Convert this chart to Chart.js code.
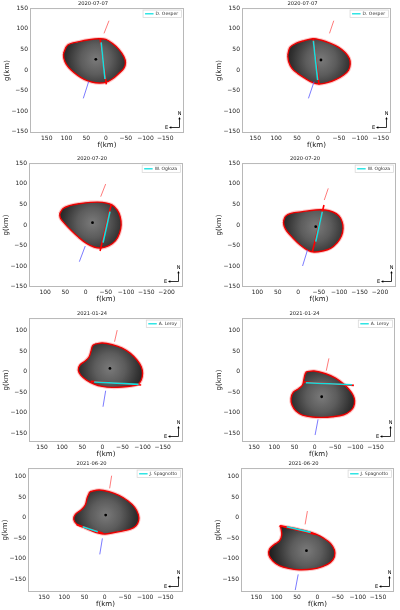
<!DOCTYPE html>
<html>
<head>
<meta charset="utf-8">
<script src="https://cdn.jsdelivr.net/npm/chart.js@4.4.1/dist/chart.umd.min.js"></script>
<style>
  body { margin: 0; width: 400px; height: 610px; position: relative; overflow: hidden; background: #fff; }
  canvas { position: absolute; }
</style>
</head>
<body>
<script>
// Titres et observateurs par panneau (2 solutions par date)
const dates = ['2020-07-07', '2020-07-07', '2020-07-20', '2020-07-20',
               '2021-01-24', '2021-01-24', '2021-06-20', '2021-06-20'];
const observers = ['D. Oesper', 'D. Oesper', 'W. Ogłoza', 'W. Ogłoza',
                   'A. Leroy', 'A. Leroy', 'J. Spagnotto', 'J. Spagnotto'];

// Contours projetés (f, g) en km
const outline1 = [[107.5,40.5],[96.7,60.7],[67.5,68.8],[42.5,73.6],[17.5,76],[0.8,74.4],[-15.8,64.7],[-32.5,50.2],[-45,32.4],[-49.2,17.8],[-45,4],[-32.5,-8.1],[-15.8,-21.8],[0.8,-30],[17.5,-31.6],[35.8,-29.1],[55,-22.7],[71.7,-12.9],[88.3,0],[100.8,14.6],[106.7,28.3]];
const outline2 = [[72.3,36.4],[66.8,55],[52.7,64.7],[33,71.2],[11.8,76],[-6.3,72.8],[-29.9,64.7],[-49.5,55],[-65.3,42.1],[-74.7,28.3],[-77,14.6],[-73.1,0],[-61.3,-12.1],[-43.2,-22.7],[-22,-30.7],[-2.4,-34],[13.4,-29.9],[30.7,-20.2],[48.7,-8.1],[62.1,4],[70,20.2]];
const outline3 = [[64.2,26.7],[56.1,39.6],[39.8,46.9],[15.4,51.8],[-13,55],[-41.5,55],[-64.2,49.4],[-78,36.4],[-85.4,20.2],[-87.8,0],[-83.7,-20.2],[-74,-38],[-57.7,-50.2],[-37.4,-55.8],[-21.1,-53.4],[-2.4,-44.5],[17.1,-29.9],[35.8,-12.9],[52,4],[61.8,16.2]];
const outline4 = [[36.2,8.1],[31.4,21],[17.7,28.3],[-10.5,32.4],[-42.7,36.4],[-65.2,36.4],[-84.5,31.6],[-99,22.7],[-107.1,8.1],[-109.5,-8.1],[-105.5,-26.7],[-95,-42.9],[-78.9,-56.6],[-58.8,-63.1],[-38.6,-65.5],[-22.5,-60.7],[-4.8,-48.5],[13.7,-30.7],[28.2,-14.6],[34.6,-2.4]];
const outline5 = [[18,67.2],[0,69.6],[-24.6,65.5],[-49.2,57.4],[-69.7,44.5],[-86.1,28.3],[-96.7,12.1],[-100,-4],[-96.7,-20.2],[-88.5,-30.7],[-72.1,-34.8],[-49.2,-37.2],[-24.6,-38],[0,-35.6],[20.5,-29.9],[39.3,-20.2],[53.3,-8.9],[59.8,4],[55.7,16.2],[42.6,25.9],[32.8,36.4],[27.9,51],[24.6,62.3]];
const outline6 = [[20.3,0],[1.6,1.6],[-26.8,-4.9],[-51.2,-15.4],[-69.1,-28.3],[-83.7,-42.1],[-94.3,-56.6],[-98.4,-70.4],[-95.9,-85],[-87.8,-95.5],[-71.5,-104.4],[-43.1,-109.2],[-18.7,-110.8],[5.7,-110],[30.1,-105.2],[46.3,-95.5],[56.1,-80.9],[58.5,-64.7],[52.8,-49.4],[39.8,-41.3],[30.1,-32.4],[26.8,-18.6],[23.6,-5.7]];
const outline7 = [[36.6,63.1],[13.8,67.2],[-10.6,63.1],[-35,54.2],[-57.7,40.5],[-74,25.1],[-82.9,8.1],[-83.7,-7.3],[-77.2,-19.4],[-63.4,-27.5],[-43.1,-32.4],[-20.3,-36.4],[-0.8,-39.6],[15.4,-37.2],[34.1,-30.7],[52.8,-22.7],[68.3,-16.2],[76.4,-4],[72.4,8.1],[58.5,18.6],[48,30.7],[43.1,48.5]];
const outline8 = [[91.9,-19.4],[73.2,-22.7],[48.8,-27.5],[24.4,-33.2],[2.4,-40.5],[-16.3,-50.2],[-32.5,-62.3],[-42.3,-78.5],[-42.3,-94.7],[-32.5,-108.4],[-12.2,-118.9],[12.2,-124.6],[44.7,-126.2],[70.7,-123],[93.5,-116.5],[109.8,-105.2],[119.5,-90.6],[117.9,-76.1],[105.7,-64.7],[93.5,-56.6],[87.8,-42.1],[89.4,-27.5]];
const outlines = [outline1, outline2, outline3, outline4, outline5, outline6, outline7, outline8];

// Centre du modèle
const centers = [[25.8,25.9],[-7.1,24.3],[-17.1,5.7],[-42.7,-4],[-18.9,8.1],[-17.1,-60.7],[-2.4,6.5],[26.8,-80.1]];

// Corde : extension rouge (incertitude) et partie positive cyan
const chordRed = [
  [[15,76.9],[-0.8,-34.8]], [[11.8,77.7],[-2.4,-34.8]],
  [[-63.4,50.2],[-35.8,-63.1]], [[-62.8,48.5],[-34.6,-64.7]],
  [[28.7,-23.5],[-96.7,-32.4]], [[27.6,-25.1],[-96.7,-33.2]],
  [[69.1,-17],[4.1,-38]], [[93.5,-19.4],[4,-40.5]]
];
const chordCyan = [
  [[12.5,67.2],[2.5,-21.8]], [[11,71],[0.8,-24.3]],
  [[-60.2,32.4],[-43.1,-42.9]], [[-58.8,32.4],[-42.7,-40.5]],
  [[20.5,-25.1],[-90.2,-30.7]], [[22,-26.7],[-91.9,-31.6]],
  [[54.5,-21.8],[17.1,-34]], [[75.6,-21.8],[16.3,-35.6]]
];

// Traits d'orientation (rouge en haut, bleu en bas)
const axisRed = [
  [[5,89],[-7.5,119.7]], [[-27.5,89],[-37.7,119.7]],
  [[-37.4,68.8],[-49.6,99.5]], [[-63.6,60.7],[-73.3,89]],
  [[-30.3,72.8],[-36.9,101]], [[-28.5,2.4],[-35,32.4]],
  [[-12.2,71.2],[-17.1,102]], [[24.4,16.2],[30.1,-16.2]]
];
const axisBlue = [
  [[44,-28.3],[57.5,-68.8]], [[9.4,-28.3],[22.8,-68.8]],
  [[0.8,-51],[15.4,-89]], [[-22.5,-60.7],[-10.5,-99.5]],
  [[-8.2,-46.1],[-1.6,-85]], [[-8.1,-115.7],[-0.8,-153.7]],
  [[5.7,-50.2],[12.2,-89]], [[47.2,-137.5],[54.5,-175.6]]
];

// Graduations
const xTicksWide = [150, 100, 50, 0, -50, -100, -150];
const xTicksShift = [100, 50, 0, -50, -100, -150, -200];
const yTicksFull = [-150, -100, -50, 0, 50, 100, 150];
const yTicksLow = [-150, -100, -50, 0, 50, 100];
const xTicks = [xTicksWide, xTicksWide, xTicksShift, xTicksShift, xTicksWide, xTicksWide, xTicksWide, xTicksWide];
const yTicks = [yTicksFull, yTicksFull, yTicksFull, yTicksFull, yTicksLow, yTicksLow, yTicksLow, yTicksLow];

// Limites des axes [min, max]
const xLimits = [[-197.5,192.5],[-174.5,181.6],[-240.7,139.8],[-239.1,137.7],[-200.7,182.6],[-198.3,179.8],[-193.4,189.5],[-189.5,188.5]];
const yLimits = [[-152.9,150.5],[-152.9,150.5],[-150.5,150.5],[-150.5,150.5],[-170.6,130.3],[-170.6,130.3],[-180.3,120.6],[-180.3,120.6]];

// Cadre de chaque panneau dans la page [gauche, haut, droite, bas]
const frames = [[30,8,186,133],[242,8,393,133],[29,163,185,287],[242,163,398,287],
                [29,318,185,442],[242,318,397,442],[28,468,185,592],[241,468,396,592]];

const FONT = 'DejaVu Sans';
const toXY = pts => pts.map(([x, y]) => ({x, y}));
const fmt = v => (v < 0 ? '\u2212' + Math.abs(v) : String(v));

// Cadre, légende et boussole
const decor = {
    id: 'decor',
    afterDatasetsDraw(chart) {
        const {ctx, chartArea: a} = chart;
        ctx.save();
        ctx.strokeStyle = '#b8b8b8';
        ctx.lineWidth = 1;
        ctx.strokeRect(a.left + 0.5, a.top + 0.5, a.right - a.left - 1, a.bottom - a.top - 1);

        // légende
        const ds = chart.data.datasets.find(d => d.legendItem);
        ctx.font = '4.5px "' + FONT + '"';
        const tw = ctx.measureText(ds.label).width;
        const w = tw + 16, h = 7.5;
        const x0 = a.right - 2.5 - w, y0 = a.top + 2;
        ctx.fillStyle = 'rgba(255,255,255,0.9)';
        ctx.fillRect(x0, y0, w, h);
        ctx.strokeStyle = '#d4d4d4';
        ctx.lineWidth = 0.7;
        ctx.strokeRect(x0, y0, w, h);
        ctx.strokeStyle = ds.borderColor;
        ctx.lineWidth = 1.3;
        ctx.beginPath();
        ctx.moveTo(x0 + 2, y0 + h / 2);
        ctx.lineTo(x0 + 10.5, y0 + h / 2);
        ctx.stroke();
        ctx.fillStyle = '#333';
        ctx.textBaseline = 'middle';
        ctx.textAlign = 'left';
        ctx.fillText(ds.label, x0 + 12.5, y0 + h / 2 + 0.3);

        // boussole N / E
        const cx = a.right - 4.5, cy = a.bottom - 5.5, len = 9;
        ctx.strokeStyle = '#000';
        ctx.fillStyle = '#000';
        ctx.lineWidth = 0.8;
        ctx.beginPath();
        ctx.moveTo(cx, cy); ctx.lineTo(cx, cy - len);
        ctx.moveTo(cx, cy); ctx.lineTo(cx - len, cy);
        ctx.stroke();
        ctx.beginPath();
        ctx.moveTo(cx, cy - len - 1.5); ctx.lineTo(cx - 1.2, cy - len + 0.8); ctx.lineTo(cx + 1.2, cy - len + 0.8);
        ctx.closePath(); ctx.fill();
        ctx.beginPath();
        ctx.moveTo(cx - len - 1.5, cy); ctx.lineTo(cx - len + 0.8, cy - 1.2); ctx.lineTo(cx - len + 0.8, cy + 1.2);
        ctx.closePath(); ctx.fill();
        ctx.font = '5px "' + FONT + '"';
        ctx.textAlign = 'center';
        ctx.fillText('N', cx, cy - len - 4.5);
        ctx.fillText('E', cx - len - 4, cy);
        ctx.restore();
    }
};

function createPanel(i) {
    const [L, T, R, B] = frames[i];
    const w = R - L + 32, h = B - T + 24;
    const canvas = document.createElement('canvas');
    canvas.width = w; canvas.height = h;
    canvas.style.width = w + 'px'; canvas.style.height = h + 'px';
    canvas.style.left = (L - 30) + 'px';
    canvas.style.top = (T - 8) + 'px';
    document.body.appendChild(canvas);

    const closed = outlines[i].concat([outlines[i][0]]);
    const lineDs = (pts, color, width, order, extra) => Object.assign({
        data: toXY(pts), borderColor: color, borderWidth: width,
        pointRadius: 0, fill: false, order: order
    }, extra || {});

    // Ombrage du modèle : dégradé autour du centre
    const shading = function (c) {
        const chart = c.chart;
        const sx = chart.scales.x, sy = chart.scales.y;
        if (!chart.chartArea || !sx || !sy) return '#333';
        const px = sx.getPixelForValue(centers[i][0]);
        const py = sy.getPixelForValue(centers[i][1]);
        const g = chart.ctx.createRadialGradient(px, py, 0, px, py, 38);
        g.addColorStop(0, '#7a7a7a');
        g.addColorStop(0.4, '#5c5c5c');
        g.addColorStop(0.75, '#333');
        g.addColorStop(1, '#1a1a1a');
        return g;
    };

    return new Chart(canvas, {
        type: 'line',
        data: {
            datasets: [
                lineDs(closed, 'rgba(255,60,60,0.3)', 3.5, 10, {tension: 0.35}),
                lineDs(closed, '#e80000', 1.4, 9, {tension: 0.35, fill: 'shape', backgroundColor: shading}),
                lineDs(axisRed[i], 'rgba(255,90,90,0.8)', 1, 6),
                lineDs(axisBlue[i], 'rgba(90,90,255,0.8)', 1, 6),
                lineDs(chordRed[i], '#ff0000', 1.6, 4),
                lineDs(chordCyan[i], '#10e0e0', 1.6, 3, {label: observers[i], legendItem: true}),
                {
                    data: toXY([centers[i]]), showLine: false, pointRadius: 1.4,
                    pointBackgroundColor: '#000', pointBorderWidth: 0, order: 1
                }
            ]
        },
        options: {
            responsive: false,
            animation: false,
            events: [],
            devicePixelRatio: 1,
            layout: { padding: { left: 0, right: 2, top: 0, bottom: 0 } },
            plugins: {
                legend: { display: false },
                tooltip: { enabled: false },
                title: {
                    display: true,
                    text: dates[i],
                    color: '#222',
                    font: { family: FONT, size: 5.2, weight: 'normal', lineHeight: 1.2 },
                    padding: { top: 0.6, bottom: 1.2 }
                }
            },
            scales: {
                x: {
                    type: 'linear',
                    min: xLimits[i][0], max: xLimits[i][1],
                    reverse: true,
                    bounds: 'data',
                    grid: { display: false, drawTicks: false },
                    border: { display: false },
                    ticks: {
                        autoSkip: false, maxRotation: 0,
                        padding: 1.5, color: '#222', font: { family: FONT, size: 6 }, callback: fmt
                    },
                    afterBuildTicks: s => { s.ticks = xTicks[i].map(v => ({value: v})); },
                    title: { display: true, text: 'f(km)', color: '#111', padding: 0,
                             font: { family: FONT, size: 7, lineHeight: 1.2 } },
                    afterFit: s => { s.height = 16; }
                },
                y: {
                    type: 'linear',
                    min: yLimits[i][0], max: yLimits[i][1],
                    bounds: 'data',
                    grid: { display: false, drawTicks: false },
                    border: { display: false },
                    ticks: {
                        autoSkip: false,
                        padding: 2, color: '#222', font: { family: FONT, size: 6 }, callback: fmt
                    },
                    afterBuildTicks: s => { s.ticks = yTicks[i].map(v => ({value: v})); },
                    title: { display: true, text: 'g(km)', color: '#111', padding: { top: 3, bottom: 0 },
                             font: { family: FONT, size: 7, lineHeight: 1.2 } },
                    afterFit: s => { s.width = 30; }
                }
            }
        },
        plugins: [decor]
    });
}

document.addEventListener('DOMContentLoaded', function () {
    for (let i = 0; i < frames.length; i++) {
        createPanel(i);
    }
});
</script>
</body>
</html>
